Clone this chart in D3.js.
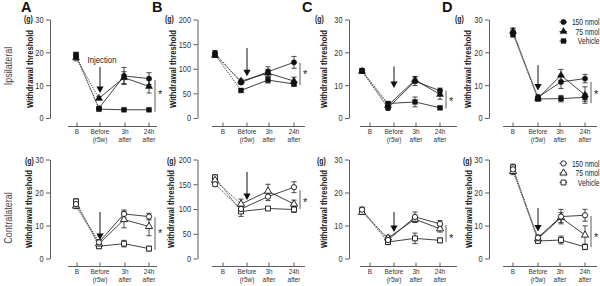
<!DOCTYPE html>
<html><head><meta charset="utf-8">
<script src="https://cdn.jsdelivr.net/npm/d3@7"></script>
<style>
body{margin:0;background:#fff}
svg{display:block}
text{font-family:"Liberation Sans",Arial,sans-serif;fill:#222}
</style></head><body>
<svg id="c" width="600" height="286"></svg>
<script>
// ---- data ----
const timeLine1 = ["B", "Before", "3h", "24h"];
const timeLine2 = ["", "(r5w)", "after", "after"];
const seriesNames = ["150 nmol", "75 nmol", "Vehicle"];
const yTicksG30 = [0, 10, 20, 30];
const yTicksG200 = [0, 50, 100, 150, 200];
const panelLetters = ["A", "B", "C", "D"];
const sideLabels = ["Ipsilateral", "Contralateral"];

// rows = series (150 nmol, 75 nmol, Vehicle); columns = time points
const ipsiA = [[19.0, 3.0, 12.8, 12.0], [18.4, 6.0, 12.3, 9.6], [19.2, 2.7, 2.5, 2.5]];
const ipsiA_sem = [[1.0, 0.4, 2.6, 1.8], [1.0, 0.5, 1.8, 2.0], [0.8, 0.5, 0.3, 0.3]];
const ipsiB = [[132, 72, 94, 113], [127, 75, 91, 75], [129, 56, 77, 69]];
const ipsiB_sem = [[5, 4, 10, 12], [4, 4, 8, 8], [4, 3, 6, 4]];
const ipsiC = [[14.3, 3.0, 11.2, 8.3], [14.2, 3.8, 11.6, 7.2], [14.4, 4.4, 4.9, 3.1]];
const ipsiC_sem = [[0.6, 0.6, 1.3, 0.8], [0.5, 0.7, 1.0, 1.5], [0.5, 0.6, 1.5, 0.4]];
const ipsiD = [[26.0, 6.3, 11.0, 12.0], [26.4, 6.0, 13.0, 7.0], [25.6, 5.8, 5.9, 6.3]];
const ipsiD_sem = [[1.2, 0.8, 2.0, 1.3], [1.0, 0.6, 1.8, 2.5], [1.0, 0.6, 1.0, 1.2]];
const contraA = [[16.5, 4.9, 13.5, 12.7], [15.9, 4.4, 11.8, 9.7], [17.3, 3.7, 4.5, 3.0]];
const contraA_sem = [[0.8, 0.8, 1.2, 1.0], [0.8, 0.8, 2.5, 2.8], [0.8, 0.7, 1.0, 0.7]];
const contraB = [[150, 100, 125, 144], [158, 110, 136, 110], [164, 95, 101, 99]];
const contraB_sem = [[4, 8, 8, 11], [4, 10, 14, 8], [5, 10, 4, 6]];
const contraC = [[14.8, 5.6, 12.6, 10.5], [14.0, 6.2, 11.9, 9.0], [14.6, 5.0, 6.1, 5.5]];
const contraC_sem = [[0.8, 1.0, 1.5, 1.0], [0.6, 0.8, 1.0, 1.0], [0.6, 0.8, 1.6, 0.7]];
const contraD = [[27.0, 6.3, 12.7, 13.1], [26.4, 6.0, 12.4, 7.1], [27.6, 5.3, 5.6, 3.5]];
const contraD_sem = [[1.0, 0.8, 2.2, 1.8], [1.0, 0.8, 1.5, 2.8], [1.0, 0.6, 1.2, 0.8]];

// annotations in data units: injection arrow [from, to], significance bar [top, bottom], asterisk level
const arrowsIpsi = [[15.5, 7.6], [142, 85], [15.7, 9.1], [16.1, 8.4]];
const arrowsContra = [[14.1, 5.6], [175, 118], [14.1, 8.0], [15.3, 8.2]];
const sigIpsi = [[11.6, 1.9], [112, 67], [8.3, 2.9], [11, 4.5]];
const sigContra = [[12.5, 2.6], [138, 100], [10.2, 5.1], [12.9, 3.4]];
const starIpsi = [8.0, 94, 5.8, 8.0];
const starContra = [8.4, 119, 6.8, 7.1];

// ---- layout ----
const NARROW = 0.82;
const rows = [
  {y0: 118, yTop: 19.5, xAxisY: 126.5, lab1: 133.5, lab2: 141.5, sideY: 66, gY: 21.5, wtY: 69, legY: [22, 31.5, 41], open: false},
  {y0: 258.5, yTop: 159.5, xAxisY: 266.5, lab1: 274, lab2: 282, sideY: 218, gY: 163.5, wtY: 209, legY: [163.5, 173, 182.5], open: true}
];
const cols = [
  {letterX: 21, axisX: 50, ticks: [77, 100, 125, 149], data: [76, 99, 124, 149], line: [68, 157], gX: [24, 25], wtX: [33, 32]},
  {letterX: 152, axisX: 197.5, ticks: [223, 247, 269, 294], data: [215, 241, 268, 294], line: [212, 305], gX: [165, 167], wtX: [175.5, 174]},
  {letterX: 302, axisX: 349, ticks: [370, 394, 416, 440], data: [362, 388, 415, 440], line: [360, 457], gX: [315, 317], wtX: [327, 327]},
  {letterX: 442, axisX: 489, ticks: [513, 538, 560, 585], data: [513, 538, 561, 585], line: [503, 597], gX: [455, 463], wtX: [470.5, 472]}
];

const panels = [
  {row: 0, col: 0, mean: ipsiA, sem: ipsiA_sem, ymax: 30, yt: yTicksG30, arrow: arrowsIpsi[0], sig: sigIpsi[0], star: starIpsi[0], injection: true},
  {row: 0, col: 1, mean: ipsiB, sem: ipsiB_sem, ymax: 200, yt: yTicksG200, arrow: arrowsIpsi[1], sig: sigIpsi[1], star: starIpsi[1]},
  {row: 0, col: 2, mean: ipsiC, sem: ipsiC_sem, ymax: 30, yt: yTicksG30, arrow: arrowsIpsi[2], sig: sigIpsi[2], star: starIpsi[2]},
  {row: 0, col: 3, mean: ipsiD, sem: ipsiD_sem, ymax: 30, yt: yTicksG30, arrow: arrowsIpsi[3], sig: sigIpsi[3], star: starIpsi[3], legend: true},
  {row: 1, col: 0, mean: contraA, sem: contraA_sem, ymax: 30, yt: yTicksG30, arrow: arrowsContra[0], sig: sigContra[0], star: starContra[0]},
  {row: 1, col: 1, mean: contraB, sem: contraB_sem, ymax: 200, yt: yTicksG200, arrow: arrowsContra[1], sig: sigContra[1], star: starContra[1]},
  {row: 1, col: 2, mean: contraC, sem: contraC_sem, ymax: 30, yt: yTicksG30, arrow: arrowsContra[2], sig: sigContra[2], star: starContra[2]},
  {row: 1, col: 3, mean: contraD, sem: contraD_sem, ymax: 30, yt: yTicksG30, arrow: arrowsContra[3], sig: sigContra[3], star: starContra[3], legend: true}
];

const svg = d3.select("#c");
const symbolTypes = [d3.symbolCircle, d3.symbolTriangle, d3.symbolSquare];
const symbolSizes = [22, 22, 24];
const symGen = (i) => d3.symbol().type(symbolTypes[i]).size(symbolSizes[i])();

// condensed text helper (mimics a narrow typeface)
function ntext(parent, x, y, str, size, anchor, rot) {
  return parent.append("text")
    .attr("transform", `translate(${x},${y})${rot ? " rotate(" + rot + ")" : ""} scale(${NARROW},1)`)
    .attr("text-anchor", anchor || "start")
    .style("font-size", size + "px").text(str);
}

// side labels
rows.forEach((r, ri) => {
  ntext(svg, 12, r.sideY, sideLabels[ri], 11, "middle", -90).style("fill", "#444");
});
// panel letters
cols.forEach((c, ci) => {
  svg.append("text").attr("x", c.letterX).attr("y", 11.5)
    .style("font-size", "14.5px").style("font-weight", "bold").style("fill", "#111")
    .text(panelLetters[ci]);
});

panels.forEach(p => {
  const r = rows[p.row], c = cols[p.col];
  const g = svg.append("g");
  const y = d3.scaleLinear().domain([0, p.ymax]).range([r.y0, r.yTop]);
  const xData = d3.scaleLinear().domain([0, 1, 2, 3]).range(c.data);
  const xTick = d3.scaleLinear().domain([0, 1, 2, 3]).range(c.ticks);

  // y axis
  const ya = g.append("g").attr("transform", `translate(${c.axisX},0)`)
    .call(d3.axisLeft(y).tickValues(p.yt).tickSize(4).tickSizeOuter(0).tickPadding(2));
  ya.select(".domain").attr("stroke", "#333").attr("stroke-width", 0.8);
  ya.selectAll(".tick line").attr("stroke", "#333").attr("stroke-width", 0.8);
  ya.selectAll(".tick text").attr("x", -6.5 / NARROW).attr("transform", `scale(${NARROW},1)`)
    .style("font-size", "9px").style("fill", "#333");

  // (g) unit and y title
  ntext(g, c.gX[p.row], r.gY, "(g)", 8.5).style("font-weight", "bold");
  g.append("text").attr("transform", `translate(${c.wtX[p.row]},${r.wtY}) rotate(-90)`)
    .attr("text-anchor", "middle").style("font-size", "9px").style("font-weight", "bold")
    .attr("textLength", 78).attr("lengthAdjust", "spacingAndGlyphs").text("Withdrawal threshold");

  // x axis (detached)
  g.append("line").attr("x1", c.line[0]).attr("x2", c.line[1]).attr("y1", r.xAxisY).attr("y2", r.xAxisY)
    .attr("stroke", "#333").attr("stroke-width", 0.8);
  timeLine1.forEach((t, i) => {
    g.append("line").attr("x1", xTick(i)).attr("x2", xTick(i))
      .attr("y1", r.xAxisY - 4).attr("y2", r.xAxisY).attr("stroke", "#333").attr("stroke-width", 0.8);
    ntext(g, xTick(i), r.lab1, t, 7.8, "middle").style("fill", "#333");
    if (timeLine2[i]) ntext(g, xTick(i), r.lab2, timeLine2[i], 7.8, "middle").style("fill", "#333");
  });

  // series lines
  const line = d3.line().x(d => xData(d.i)).y(d => y(d.v));
  p.mean.forEach((s, si) => {
    const pts = s.map((v, i) => ({v, i}));
    g.append("path").attr("d", line(pts.slice(0, 2))).attr("fill", "none")
      .attr("stroke", "#555").attr("stroke-width", 1).attr("stroke-dasharray", "1.4,1");
    g.append("path").attr("d", line(pts.slice(1))).attr("fill", "none")
      .attr("stroke", "#111").attr("stroke-width", 0.8);
  });
  // error bars
  p.mean.forEach((s, si) => {
    s.forEach((v, i) => {
      const e = p.sem[si][i], x = xData(i);
      const eg = g.append("g").attr("stroke", "#222").attr("stroke-width", 0.8);
      eg.append("line").attr("x1", x).attr("x2", x).attr("y1", y(v - e)).attr("y2", y(v + e));
      eg.append("line").attr("x1", x - 2.6).attr("x2", x + 2.6).attr("y1", y(v - e)).attr("y2", y(v - e));
      eg.append("line").attr("x1", x - 2.6).attr("x2", x + 2.6).attr("y1", y(v + e)).attr("y2", y(v + e));
    });
  });
  // markers
  [2, 1, 0].forEach(si => {
    p.mean[si].forEach((v, i) => {
      g.append("path").attr("d", symGen(si))
        .attr("transform", `translate(${xData(i)},${y(v)})`)
        .attr("fill", r.open ? "#fff" : "#111").attr("stroke", "#111").attr("stroke-width", r.open ? 0.9 : 0.4);
    });
  });

  // injection arrow
  const ax = xTick(1), a0 = y(p.arrow[0]), a1 = y(p.arrow[1]);
  g.append("line").attr("x1", ax).attr("x2", ax).attr("y1", a0).attr("y2", a1 - 5)
    .attr("stroke", "#111").attr("stroke-width", 1);
  g.append("path").attr("d", `M${ax - 3.6},${a1 - 6.5}L${ax + 3.6},${a1 - 6.5}L${ax},${a1}Z`).attr("fill", "#111");
  if (p.injection) {
    ntext(g, ax + 2, a0 - 4, "Injection", 9.5, "middle").style("fill", "#222");
  }

  // significance bar + asterisk
  const sx = xTick(3) + 6;
  g.append("line").attr("x1", sx).attr("x2", sx).attr("y1", y(p.sig[0])).attr("y2", y(p.sig[1]))
    .attr("stroke", "#333").attr("stroke-width", 0.8);
  g.append("text").attr("x", sx + 3).attr("y", y(p.star) + 6).style("font-size", "11px").style("fill", "#222").text("*");

  // legend
  if (p.legend) {
    seriesNames.forEach((nm, si) => {
      const ly = r.legY[si];
      g.append("line").attr("x1", 559.5).attr("x2", 567).attr("y1", ly).attr("y2", ly)
        .attr("stroke", "#111").attr("stroke-width", 0.8);
      g.append("path").attr("d", symGen(si)).attr("transform", `translate(563.5,${ly})`)
        .attr("fill", r.open ? "#fff" : "#111").attr("stroke", "#111").attr("stroke-width", r.open ? 0.9 : 0.4);
      ntext(g, 599.5, ly + 3, nm, 8.2, "end");
    });
  }
});
</script>
</body></html>
